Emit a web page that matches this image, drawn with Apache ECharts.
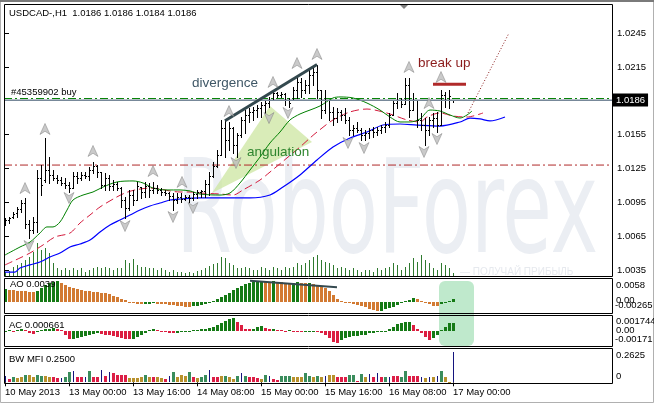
<!DOCTYPE html>
<html><head><meta charset="utf-8">
<script src="https://cdn.jsdelivr.net/npm/echarts/dist/echarts.min.js"></script>
<style>html,body{margin:0;padding:0;background:#fff}#c{width:654px;height:403px}</style>
</head><body><div id="c"></div>
<script>
// ---------- data ----------
const xTickIdx  = [0,16,32,48,64,80,96,112];
const xTickText = ['10 May 2013','13 May 00:00','13 May 16:00','14 May 08:00','15 May 00:00','15 May 16:00','16 May 08:00','17 May 00:00'];
const priceTicks = [1.0035,1.0065,1.0095,1.0125,1.0155,1.0215,1.0245];

const high = [1.00811,1.00820,1.00865,1.00909,1.00971,1.00989,1.00794,1.00820,1.01237,1.01281,
1.01521,1.01352,1.01237,1.01193,1.01175,1.01166,1.01131,1.01219,1.01219,1.01219,
1.01219,1.01264,1.01308,1.01281,1.01219,1.01211,1.01193,1.01148,1.01131,1.01086,
1.00998,1.01060,1.01060,1.01131,1.01086,1.01131,1.01122,1.01131,1.01104,1.01077,
1.01060,1.01042,1.01033,1.01033,1.01033,1.01015,1.01015,1.01042,1.01060,1.01060,
1.01148,1.01219,1.01308,1.01415,1.01681,1.01681,1.01663,1.01619,1.01565,1.01707,
1.01769,1.01787,1.01796,1.01814,1.01840,1.01858,1.01885,1.01947,1.01929,1.01929,
1.01920,1.01876,1.01973,1.02062,1.02053,1.02035,1.02124,1.02142,1.02168,1.01947,
1.01947,1.01858,1.01796,1.01787,1.01769,1.01787,1.01707,1.01636,1.01663,1.01610,
1.01592,1.01610,1.01619,1.01619,1.01636,1.01663,1.01743,1.01858,1.01920,1.01876,
1.02053,1.02053,1.01920,1.01858,1.01743,1.01698,1.01707,1.01743,1.01752,1.01947,
1.01929,1.01947,1.0186];
const low = [1.00749,1.00767,1.00811,1.00820,1.00865,1.00723,1.00634,1.00678,1.00687,1.01015,
1.01131,1.01122,1.01148,1.01122,1.01104,1.01077,1.01042,1.01077,1.01122,1.01148,
1.01166,1.01148,1.01211,1.01175,1.01077,1.01060,1.01060,1.01060,1.01060,1.00909,
1.00811,1.00882,1.00927,1.00971,1.00989,1.00998,1.00998,1.01033,1.01033,1.01015,
1.01015,1.00971,1.00882,1.00944,1.00953,1.00971,1.00953,1.00971,1.00989,1.00998,
1.00998,1.01015,1.01175,1.01264,1.01370,1.01352,1.01415,1.01388,1.01352,1.01530,
1.01565,1.01663,1.01681,1.01707,1.01707,1.01743,1.01796,1.01858,1.01885,1.01885,
1.01814,1.01796,1.01858,1.01876,1.01885,1.01920,1.01920,1.01991,1.01876,1.01698,
1.01743,1.01681,1.01636,1.01663,1.01681,1.01654,1.01548,1.01548,1.01574,1.01503,
1.01503,1.01521,1.01530,1.01548,1.01565,1.01574,1.01619,1.01725,1.01787,1.01796,
1.01823,1.01707,1.01769,1.01619,1.01592,1.01459,1.01548,1.01619,1.01574,1.01636,
1.01796,1.01787,1.0184];
const open = [1.00776,1.00794,1.00820,1.00856,1.00891,1.00944,1.00758,1.00705,1.00776,1.01166,
1.01148,1.01237,1.01193,1.01166,1.01148,1.01122,1.01104,1.01077,1.01184,1.01166,
1.01193,1.01184,1.01237,1.01273,1.01219,1.01104,1.01166,1.01095,1.01113,1.01077,
1.00971,1.00900,1.01015,1.00971,1.01086,1.01042,1.01095,1.01060,1.01077,1.01060,
1.01042,1.01033,1.01007,1.00971,1.00998,1.00980,1.00998,1.00989,1.01024,1.01042,
1.01051,1.01113,1.01184,1.01273,1.01370,1.01610,1.01503,1.01610,1.01459,1.01548,
1.01681,1.01725,1.01752,1.01769,1.01787,1.01814,1.01831,1.01858,1.01920,1.01902,
1.01911,1.01858,1.01858,1.01947,1.02018,1.01947,1.01991,1.02080,1.02106,1.01947,
1.01769,1.01858,1.01752,1.01698,1.01752,1.01725,1.01681,1.01592,1.01610,1.01592,
1.01548,1.01565,1.01592,1.01574,1.01592,1.01619,1.01636,1.01725,1.01831,1.01858,
1.01823,1.01991,1.01769,1.01858,1.01681,1.01636,1.01592,1.01681,1.01698,1.01636,
1.01902,1.01858,1.0186];
const close = [1.00794,1.00811,1.00847,1.00891,1.00944,1.00758,1.00705,1.00776,1.01166,1.01104,
1.01237,1.01193,1.01166,1.01148,1.01122,1.01104,1.01077,1.01184,1.01166,1.01193,
1.01184,1.01237,1.01273,1.01219,1.01104,1.01166,1.01095,1.01113,1.01077,1.00971,
1.00900,1.01015,1.00971,1.01095,1.01042,1.01095,1.01060,1.01077,1.01060,1.01042,
1.01033,1.01007,1.00971,1.00998,1.00980,1.00998,1.00989,1.01024,1.01042,1.01051,
1.01113,1.01184,1.01273,1.01370,1.01610,1.01503,1.01610,1.01459,1.01548,1.01681,
1.01725,1.01752,1.01769,1.01787,1.01814,1.01831,1.01858,1.01920,1.01902,1.01911,
1.01858,1.01831,1.01947,1.02018,1.01947,1.01991,1.02080,1.02106,1.01947,1.01769,
1.01858,1.01752,1.01698,1.01752,1.01725,1.01681,1.01592,1.01610,1.01592,1.01548,
1.01565,1.01592,1.01574,1.01592,1.01619,1.01636,1.01725,1.01831,1.01858,1.01823,
1.01991,1.01769,1.01858,1.01681,1.01636,1.01592,1.01681,1.01698,1.01636,1.01902,
1.01858,1.01893,1.0186];
const volume = [200,250,450,550,650,800,950,1200,1650,1300,1400,1150,650,400,300,400,300,400,300,400,
200,300,400,450,400,450,400,300,400,400,800,650,850,550,450,450,400,400,300,400,
300,200,300,200,200,150,200,150,250,300,400,500,600,650,950,900,650,550,400,400,
450,400,300,300,450,400,300,450,400,300,450,400,450,650,550,650,800,950,1050,800,
700,650,550,400,450,400,300,400,300,200,300,300,200,400,300,400,450,650,550,300,
450,650,900,700,1050,800,650,400,300,650,550,400,150];

// Alligator lines, read as [bar, price] points
const jaw = [[0,1.00332],[2.5,1.00332],[3.75,1.00368],[6.25,1.00395],[8.75,1.00421],[11.25,1.00465],[13.75,1.00501],[16.25,1.00554],[18.75,1.00581],[21.25,1.00616],[23.75,1.00687],[26.25,1.00749],[28.75,1.00794],[31.25,1.00838],[33.75,1.00882],[36.25,1.00918],[38.75,1.00944],[41.25,1.00971],[43.75,1.00980],[48.75,1.00989],[61.25,1.00989],[66.25,1.01015],[69.5,1.01086],[73.75,1.01193],[78,1.01326],[82,1.01441],[86.25,1.01521],[90.5,1.01574],[94.5,1.01636],[98.75,1.01645],[103,1.01636],[108.75,1.01627],[113.75,1.01663],[116.25,1.01698],[118.75,1.01690],[121.25,1.01672],[125,1.01707]];
const teeth = [[0,1.00395],[3.75,1.00457],[6.25,1.00501],[9.5,1.00572],[12.5,1.00643],[16.25,1.00678],[18.75,1.00767],[21.25,1.00838],[23.75,1.00909],[27.5,1.00989],[30,1.01033],[32.5,1.01060],[36.25,1.01077],[38.75,1.01069],[41.25,1.01051],[43.75,1.01042],[46.25,1.01042],[48.75,1.01033],[53.75,1.01024],[57,1.01015],[59.5,1.01060],[63.75,1.01148],[66.25,1.01219],[70.5,1.01344],[73.75,1.01441],[76.25,1.01521],[78,1.01574],[82,1.01681],[86.25,1.01752],[90.5,1.01778],[94.5,1.01752],[97,1.01725],[100.5,1.01681],[103.75,1.01663],[105.5,1.01707],[108.75,1.01743],[112,1.01716],[115.5,1.01707],[119.5,1.01743]];
const lips = [[0,1.00483],[3.75,1.00554],[6.25,1.00598],[8.75,1.00678],[10.5,1.00732],[12,1.00732],[13.75,1.00776],[15.5,1.00882],[17,1.00971],[19.5,1.01015],[22,1.01042],[24.5,1.01086],[28,1.01131],[32,1.01140],[34.5,1.01122],[37,1.01077],[40.5,1.01060],[43.75,1.01060],[46.25,1.01051],[48.75,1.01024],[53.75,1.01015],[56.25,1.01033],[58.75,1.01122],[61.25,1.01237],[63.75,1.01352],[66.25,1.01477],[68.75,1.01574],[71.25,1.01681],[73.75,1.01734],[76.25,1.01769],[78.75,1.01805],[82,1.01876],[83.75,1.01885],[87,1.01876],[90.5,1.01831],[93.75,1.01769],[96.25,1.01707],[98.75,1.01663],[101.25,1.01663],[103.75,1.01690],[106.25,1.01769],[108.75,1.01760],[111.25,1.01725],[113.75,1.01698],[115.5,1.01725],[116.75,1.01760]];

const upFractals   = [[5,1.01077],[10,1.01601],[22,1.01406],[37,1.01228],[44.25,1.01131],[56,1.01760],[67,1.02018],[73,1.02186],[78,1.02266],[101,1.02151],[106,1.01831],[109,1.02062]];
const downFractals = [[6,1.00563],[16,1.00989],[30,1.00740],[42,1.00820],[47,1.00900],[57.75,1.01299],[66,1.01698],[70.75,1.01743],[85.75,1.01477],[89.75,1.01432],[104.75,1.01397],[108,1.01512]];

const bidPrice = 1.01858, orderPrice = 1.01871, levelPrice = 1.01281;
const divergenceLine = [[55,1.01674],[78,1.02173]];
const breakUpLine = [[107,1.01997],[115.25,1.01997]];
const forecastLine = [[115.75,1.01743],[126,1.02452]];
const angulationTri = [[51.75,1.01033],[66.25,1.01805],[76.75,1.01485]];

const ao = [0.00345,0.00331,0.00317,0.00304,0.00290,0.00284,0.00276,0.00270,0.00290,0.00367,
0.00461,0.00505,0.00552,0.00571,0.00505,0.00461,0.00414,0.00367,0.00339,0.00323,
0.00304,0.00284,0.00276,0.00257,0.00248,0.00229,0.00201,0.00157,0.00119,0.00075,
0.00036,-0.00008,-0.00036,-0.00055,-0.00075,-0.00063,-0.00055,-0.00047,-0.00055,-0.00063,
-0.00075,-0.00091,-0.00102,-0.00119,-0.00130,-0.00138,-0.00144,-0.00130,-0.00110,-0.00091,
-0.00063,-0.00036,0.00008,0.00063,0.00119,0.00185,0.00248,0.00323,0.00386,0.00442,
0.00489,0.00524,0.00552,0.00571,0.00580,0.00560,0.00552,0.00560,0.00544,0.00533,
0.00524,0.00516,0.00524,0.00533,0.00524,0.00519,0.00524,0.00497,0.00469,0.00428,
0.00373,0.00290,0.00193,0.00083,0.00028,-0.00019,-0.00047,-0.00075,-0.00097,-0.00124,
-0.00152,-0.00193,-0.00235,-0.00265,-0.00257,-0.00213,-0.00166,-0.00138,-0.00091,-0.00047,
0.00028,0.00047,0.00091,0.00063,0.00019,-0.00028,-0.00075,-0.00119,-0.00124,-0.00075,
-0.00028,0.00028,0.00063];
const aoDivergence = [[61.25,0.0058],[83,0.00397]];

const ac = [0.00004,0.00007,0.00004,0.00014,0.00021,0.00007,-0.00027,-0.00041,-0.00014,0.00007,
0.00027,0.00034,0.00041,0.00034,0.00007,-0.00055,-0.00110,-0.00103,-0.00096,-0.00082,
-0.00069,-0.00055,-0.00041,-0.00027,-0.00041,-0.00048,-0.00055,-0.00069,-0.00082,-0.00096,
-0.00103,-0.00110,-0.00103,-0.00082,-0.00055,-0.00027,0.00014,0.00027,0.00014,-0.00007,
-0.00014,-0.00021,-0.00027,-0.00021,-0.00014,-0.00007,0.00004,0.00011,0.00016,0.00021,
0.00027,0.00041,0.00055,0.00082,0.00110,0.00137,0.00164,0.00174,0.00123,0.00082,
0.00027,0.00021,0.00027,0.00055,0.00069,0.00041,0.00021,0.00023,0.00014,0.00007,
0.00004,0.00007,0.00004,-0.00004,-0.00014,-0.00007,-0.00004,0.00004,-0.00014,-0.00032,
-0.00055,-0.00100,-0.00147,-0.00171,-0.00123,-0.00100,-0.00078,-0.00069,-0.00064,-0.00059,
-0.00055,-0.00032,-0.00023,-0.00018,-0.00014,0.00004,0.00027,0.00059,0.00092,0.00114,
0.00123,0.00127,0.00082,0.00023,-0.00023,-0.00078,-0.00123,-0.00092,-0.00055,0.00014,
0.00059,0.00105,0.00107];

const mfi = [0.0525,0.0289,0.0438,0.035,0.0438,0.0613,0.0613,0.0499,0.0613,0.0551,
0.0551,0.0499,0.0499,0.035,0.035,0.0499,0.0936,0.1024,0.0438,0.0438,
0.0499,0.1024,0.0499,0.0499,0.1076,0.0551,0.0936,0.0788,0.0639,0.0613,
0.0613,0.0411,0.0411,0.0411,0.0499,0.0639,0.0499,0.0499,0.0438,0.0376,
0.0289,0.0551,0.0936,0.0499,0.0639,0.0551,0.0936,0.0438,0.035,0.0499,
0.0639,0.1076,0.0499,0.0499,0.0586,0.0551,0.0438,0.0289,0.0551,0.0849,
0.0551,0.0499,0.0499,0.035,0.0263,0.0639,0.0551,0.0263,0.0201,0.0551,
0.0551,0.0551,0.0499,0.0499,0.0499,0.0788,0.0551,0.0499,0.0551,0.0499,
0.0551,0.0639,0.0639,0.0438,0.0438,0.0499,0.0639,0.0639,0.0149,0.0726,
0.0438,0.0726,0.0438,0.0788,0.0499,0.0438,0.0438,0.0551,0.0551,0.0499,
0.0989,0.0551,0.0551,0.0551,0.0438,0.035,0.0438,0.0499,0.0551,0.0989,
0.0499,0.0044,0.2625];
// zone: g = green, b = brown (fade), n = blue (fake), r = pink (squat)
const mfiZone = ('nrgbbgbbgg'+'bbrrnggnrr'+'ngrrnrnrrr'+'rbbbbgbrbb'+'rngbbbgrbg'+
                 'gnrrbgbbgn'+'grrrbgnrrg'+'ggbbbggbgb'+'nbbrrrggrg'+'bnrnrgnrrg'+'grrrnbnbng'+'bbn').split('');

// ---------- chart ----------
const FONT = '"Liberation Sans", Arial, sans-serif';
const XMIN = -0.25, XMAX = 151.75;
const chart = echarts.init(document.getElementById('c'), null, {renderer:'canvas'});

const idx = high.map((_, i) => i);
const ohlcData = idx.map(i => [i, open[i], close[i], low[i], high[i]]);
const volData = idx.map(i => [i, volume[i]]);
const aoData = idx.map(i => [i, ao[i]]);
const acData = idx.map(i => [i, ac[i]]);
const mfiData = idx.map(i => [i, mfi[i]]);

const AO_UP = '#157a15', AO_DN = '#d27a32', AC_DN = '#dc1e40';
const MFI_COL = {g:'#3a8d5c', b:'#b8912c', r:'#dc1e46', n:'#14147e'};

function ohlcRender(params, api) {
  const i = api.value(0);
  const o = api.coord([i, api.value(1)]);
  const c = api.coord([i, api.value(2)]);
  const l = api.coord([i, api.value(3)]);
  const h = api.coord([i, api.value(4)]);
  const x = Math.floor(h[0]);
  const yh = Math.round(h[1]), yl = Math.round(l[1]);
  return {type:'group', children:[
    {type:'rect', shape:{x:x, y:yh, width:1, height:Math.max(1, yl - yh + 1)}, style:{fill:'#000'}},
    {type:'rect', shape:{x:x-1, y:Math.round(o[1]), width:1, height:1}, style:{fill:'#000'}},
    {type:'rect', shape:{x:x+1, y:Math.round(c[1]), width:1, height:1}, style:{fill:'#000'}}
  ]};
}
function histRender(colorOf, widthOf) {
  return function (params, api) {
    const i = api.value(0), v = api.value(1);
    const top = api.coord([i, v]), base = api.coord([i, 0]);
    const w = widthOf(params.dataIndex);
    const cx = Math.floor(top[0]);
    const x = w === 1 ? cx : cx - 1;
    let y1 = Math.round(Math.min(top[1], base[1]));
    let y2 = Math.round(Math.max(top[1], base[1]));
    if (y2 - y1 < 1) y2 = y1 + 1;
    return {type:'rect', shape:{x:x, y:y1, width:w, height:y2 - y1}, style:{fill:colorOf(params.dataIndex)}};
  };
}
const aoColor = k => (k === 0 || ao[k] > ao[k-1]) ? AO_UP : AO_DN;
const acColor = k => (k === 0 || ac[k] > ac[k-1]) ? AO_UP : AC_DN;

function hx(gi, show) {
  return {type:'value', gridIndex:gi, min:XMIN, max:XMAX, show:show,
    axisLine:{show:false}, splitLine:{show:false},
    axisTick:{show:show, customValues:xTickIdx, length:4, lineStyle:{color:'#000'}},
    axisLabel:{show:show, customValues:xTickIdx, align:'left', margin:4, fontSize:9.5, fontFamily:FONT, color:'#000',
      formatter: v => xTickText[xTickIdx.indexOf(Math.round(v))] || ''}};
}
function hiddenY(gi, mn, mx) {
  return {type:'value', gridIndex:gi, min:mn, max:mx, show:false, splitLine:{show:false}};
}
function txt(x, y, s, opt) {
  return Object.assign({type:'text', x:x, y:y, z:60, silent:true,
    style:Object.assign({text:s, fontSize:9.5, fontFamily:FONT, fill:'#000', align:'left', verticalAlign:'middle'}, opt || {})});
}
function frame(y, h) {
  return {type:'rect', z:50, silent:true, shape:{x:4.5, y:y, width:608, height:h}, style:{fill:'none', stroke:'#000', lineWidth:1}};
}
const arrowUp = 'path://M5,0 L10,12 L5,8.5 L0,12 Z';
const arrowDn = 'path://M0,0 L5,3.5 L10,0 L5,12 Z';

const option = {
  animation:false,
  backgroundColor:'#fff',
  grid:[
    {left:4, top:4, width:608, height:272, outerBoundsMode:'none'},
    {left:4, top:279, width:608, height:34, outerBoundsMode:'none'},
    {left:4, top:316, width:608, height:30, outerBoundsMode:'none'},
    {left:4, top:349, width:608, height:34, outerBoundsMode:'none'}
  ],
  xAxis:[hx(0,false), hx(1,false), hx(2,false), hx(3,true)],
  yAxis:[
    {type:'value', gridIndex:0, position:'right', min:1.002969, max:1.027095,
      axisLine:{show:false}, splitLine:{show:false},
      axisTick:{show:true, customValues:priceTicks, length:4, lineStyle:{color:'#000'}},
      axisLabel:{show:true, customValues:priceTicks, margin:5, fontSize:9.5, fontFamily:FONT, color:'#000',
        formatter: v => v.toFixed(4)}},
    hiddenY(0, 0, 13600),
    hiddenY(1, -0.003119, 0.006265),
    hiddenY(2, -0.002055, 0.002055),
    hiddenY(3, -0.0061, 0.2914)
  ],
  graphic:[
    {type:'rect', z:0, silent:true, shape:{x:439, y:281, width:35, height:65, r:6}, style:{fill:'#bfe9cc'}},
    {type:'text', x:176, y:218, z:0, silent:true, scaleX:0.62,
      style:{text:'RoboForex', fontSize:130, fontFamily:'"DejaVu Sans", sans-serif', fill:'#ebeef3', align:'left', verticalAlign:'middle'}},
    {type:'text', x:460, y:272, z:0, silent:true,
      style:{text:'— ПОЛУЧАЙ ПРИБЫЛЬ', fontSize:10, fontFamily:FONT, fill:'#e6e9ee', align:'left', verticalAlign:'middle'}},
    {type:'rect', z:49, silent:true, shape:{x:0.5, y:0.5, width:653, height:402}, style:{fill:'none', stroke:'#b0b0b0', lineWidth:1}},
    {type:'line', z:49, silent:true, shape:{x1:0, y1:1, x2:654, y2:1}, style:{stroke:'#7a7a7a', lineWidth:2}},
    frame(4.5, 272), frame(278.5, 35), frame(315.5, 31), frame(348.5, 35),
    {type:'polygon', z:55, silent:true, shape:{points:[[400,5],[408,5],[404,9]]}, style:{fill:'#808080'}},
    txt(9, 13, 'USDCAD-,H1  1.0186 1.0186 1.0184 1.0186'),
    txt(11, 92, '#45359902 buy'),
    txt(192, 83, 'divergence', {fontSize:13.5, fill:'#3f5766'}),
    txt(247, 152.5, 'angulation', {fontSize:13.5, fill:'#2e852e'}),
    txt(418, 63, 'break up', {fontSize:13.5, fill:'#8b1c1c'}),
    txt(10, 284.5, 'AO 0.0039'),
    txt(9, 325, 'AC 0.000661'),
    txt(9, 359, 'BW MFI 0.2500'),
    txt(616, 285, '0.0058'),
    txt(616, 300.5, '0.00'),
    txt(615, 305.5, '-0.00265'),
    txt(616, 321.5, '0.001744'),
    txt(616, 330, '0.00'),
    txt(615, 339, '-0.00171'),
    txt(616, 355, '0.2625'),
    txt(616, 376.5, '0')
  ],
  series:[
    {type:'custom', name:'angulation', xAxisIndex:0, yAxisIndex:0, z:1, silent:true, data:[[0]],
      renderItem:(p, api) => ({type:'polygon', shape:{points:angulationTri.map(pt => api.coord(pt))},
        style:{fill:'rgba(204,230,160,0.75)'}})},
    {type:'custom', name:'volume', xAxisIndex:0, yAxisIndex:1, z:2, silent:true, data:volData,
      renderItem:histRender(() => '#2f7a2f', () => 1)},
    {type:'line', name:'level', xAxisIndex:0, yAxisIndex:0, z:3, silent:true, symbol:'none',
      data:[[XMIN, levelPrice],[XMAX, levelPrice]], lineStyle:{color:'#b02828', width:1, type:[8,3,2,3]}},
    {type:'line', name:'order', xAxisIndex:0, yAxisIndex:0, z:3, silent:true, symbol:'none',
      data:[[XMIN, orderPrice],[XMAX, orderPrice]], lineStyle:{color:'#008000', width:1, type:[8,3,2,3]}},
    {type:'line', name:'bid', xAxisIndex:0, yAxisIndex:0, z:3, silent:true, symbol:'none',
      data:[[XMIN, bidPrice],[XMAX, bidPrice]], lineStyle:{color:'#778899', width:1},
      markLine:{silent:true, symbol:'none', animation:false,
        data:[[{coord:[XMIN, bidPrice]},{coord:[XMAX, bidPrice]}]],
        lineStyle:{color:'#778899', width:1, type:'solid'},
        label:{show:true, position:'end', distance:1, formatter:'1.0186', color:'#fff', backgroundColor:'#000',
          fontSize:9.5, fontFamily:FONT, padding:[2,3,1,3]}}},
    {type:'line', name:'jaw', xAxisIndex:0, yAxisIndex:0, z:3, silent:true, symbol:'none', smooth:0.3,
      data:jaw, lineStyle:{color:'#0000ff', width:1.2}},
    {type:'line', name:'teeth', xAxisIndex:0, yAxisIndex:0, z:3, silent:true, symbol:'none', smooth:0.3,
      data:teeth, lineStyle:{color:'#d41a3c', width:1, type:[8,4]}},
    {type:'line', name:'lips', xAxisIndex:0, yAxisIndex:0, z:3, silent:true, symbol:'none', smooth:0.3,
      data:lips, lineStyle:{color:'#008000', width:1}},
    {type:'line', name:'forecast', xAxisIndex:0, yAxisIndex:0, z:3, silent:true, symbol:'none',
      data:forecastLine, lineStyle:{color:'#8b1c1c', width:1, type:[1,2]}},
    {type:'custom', name:'bars', xAxisIndex:0, yAxisIndex:0, z:4, silent:true, data:ohlcData,
      encode:{x:0, y:[1,2,3,4]}, renderItem:ohlcRender},
    {type:'line', name:'divergence', xAxisIndex:0, yAxisIndex:0, z:5, silent:true, symbol:'none',
      data:divergenceLine, lineStyle:{color:'#34494f', width:3}},
    {type:'line', name:'breakup', xAxisIndex:0, yAxisIndex:0, z:5, silent:true, symbol:'none',
      data:breakUpLine, lineStyle:{color:'#b02a2a', width:3}},
    {type:'scatter', name:'fractal up', xAxisIndex:0, yAxisIndex:0, z:6, silent:true, symbol:arrowUp, symbolSize:[10,11],
      data:upFractals, itemStyle:{color:'#bdbdbd', borderColor:'#7a7a7a', borderWidth:0.6}},
    {type:'scatter', name:'fractal down', xAxisIndex:0, yAxisIndex:0, z:6, silent:true, symbol:arrowDn, symbolSize:[10,11],
      data:downFractals, itemStyle:{color:'#bdbdbd', borderColor:'#7a7a7a', borderWidth:0.6}},
    {type:'custom', name:'AO', xAxisIndex:1, yAxisIndex:2, z:2, silent:true, data:aoData,
      renderItem:histRender(aoColor, () => 3)},
    {type:'line', name:'AO divergence', xAxisIndex:1, yAxisIndex:2, z:5, silent:true, symbol:'none',
      data:aoDivergence, lineStyle:{color:'#34494f', width:2}},
    {type:'custom', name:'AC', xAxisIndex:2, yAxisIndex:3, z:2, silent:true, data:acData,
      renderItem:histRender(acColor, () => 3)},
    {type:'custom', name:'BW MFI', xAxisIndex:3, yAxisIndex:4, z:2, silent:true, data:mfiData,
      renderItem:histRender(k => MFI_COL[mfiZone[k]], k => mfiZone[k] === 'n' ? 1 : 3)}
  ]
};
chart.setOption(option);
</script></body></html>
